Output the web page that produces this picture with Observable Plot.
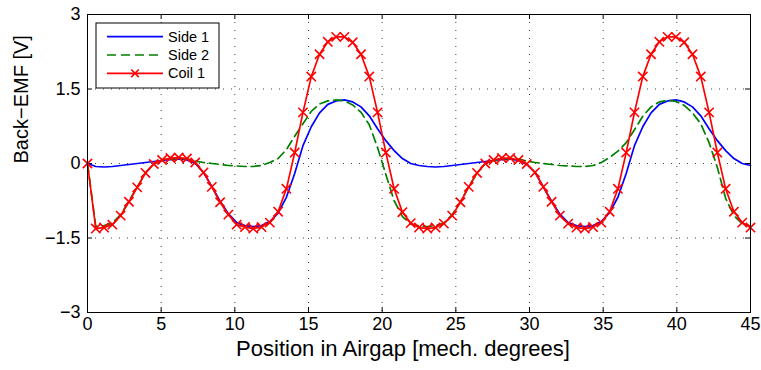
<!DOCTYPE html>
<html><head><meta charset="utf-8">
<script src="https://cdn.jsdelivr.net/npm/d3@7"></script>
<script src="https://cdn.jsdelivr.net/npm/@observablehq/plot@0.6"></script>
<style>body{margin:0;background:#fff;font-family:"Liberation Sans",Arial,sans-serif}</style>
</head><body><div id="chart"></div>
<script>
// Position in airgap [mech. degrees]
const position = [0, 0.5625, 1.125, 1.6875, 2.25, 2.8125, 3.375, 3.9375, 4.5, 5.0625, 5.625, 6.1875, 6.75, 7.3125, 7.875, 8.4375, 9, 9.5625, 10.125, 10.6875, 11.25, 11.8125, 12.375, 12.9375, 13.5, 14.0625, 14.625, 15.1875, 15.75, 16.3125, 16.875, 17.4375, 18, 18.5625, 19.125, 19.6875, 20.25, 20.8125, 21.375, 21.9375,
  22.5, 23.0625, 23.625, 24.1875, 24.75, 25.3125, 25.875, 26.4375, 27, 27.5625, 28.125, 28.6875, 29.25, 29.8125, 30.375, 30.9375, 31.5, 32.0625, 32.625, 33.1875, 33.75, 34.3125, 34.875, 35.4375, 36, 36.5625, 37.125, 37.6875, 38.25, 38.8125, 39.375, 39.9375, 40.5, 41.0625, 41.625, 42.1875, 42.75, 43.3125, 43.875, 44.4375, 45];

const side1 = [0, -0.06, -0.07, -0.06, -0.04, -0.02, 0.00, 0.02, 0.04, 0.06, 0.08, 0.09, 0.07, 0.00, -0.18, -0.46, -0.76, -1.01, -1.19, -1.25, -1.27, -1.25, -1.17, -1.00, -0.68, -0.20, 0.36, 0.74, 1.02, 1.19, 1.26, 1.28, 1.24, 1.14, 0.96, 0.70, 0.46, 0.26, 0.10, 0.00,
  -0.04, -0.06, -0.07, -0.06, -0.04, -0.02, 0.00, 0.02, 0.04, 0.06, 0.08, 0.09, 0.06, -0.02, -0.18, -0.47, -0.76, -1.02, -1.19, -1.25, -1.27, -1.25, -1.17, -0.99, -0.68, -0.20, 0.36, 0.74, 1.02, 1.19, 1.26, 1.28, 1.24, 1.14, 0.96, 0.70, 0.46, 0.26, 0.10, 0.00, -0.04];

const side2 = [0, -1.27, -1.25, -1.20, -1.03, -0.76, -0.47, -0.19, -0.01, 0.06, 0.09, 0.10, 0.09, 0.05, 0.02, 0.00, -0.02, -0.04, -0.05, -0.06, -0.06, -0.04, 0.02, 0.10, 0.28, 0.55, 0.80, 1.05, 1.20, 1.26, 1.28, 1.26, 1.18, 1.03, 0.78, 0.32, -0.22, -0.75, -1.07, -1.22,
  -1.26, -1.27, -1.25, -1.20, -1.03, -0.77, -0.47, -0.19, 0.00, 0.06, 0.09, 0.10, 0.09, 0.05, 0.02, 0.00, -0.02, -0.04, -0.05, -0.06, -0.06, -0.04, 0.02, 0.12, 0.25, 0.42, 0.68, 0.95, 1.14, 1.24, 1.27, 1.25, 1.17, 1.02, 0.80, 0.42, -0.08, -0.70, -1.05, -1.21, -1.26];

const coil1 = [0, -1.31, -1.29, -1.23, -1.05, -0.77, -0.48, -0.19, -0.01, 0.07, 0.11, 0.12, 0.10, 0.02, -0.18, -0.47, -0.78, -1.03, -1.23, -1.28, -1.31, -1.28, -1.19, -0.97, -0.51, 0.22, 1.03, 1.75, 2.20, 2.45, 2.55, 2.55, 2.44, 2.20, 1.75, 1.03, 0.22, -0.51, -0.98, -1.20,
  -1.29, -1.31, -1.29, -1.21, -1.05, -0.78, -0.47, -0.19, 0.00, 0.07, 0.11, 0.11, 0.07, -0.01, -0.18, -0.47, -0.77, -1.05, -1.21, -1.29, -1.31, -1.28, -1.19, -0.97, -0.51, 0.22, 1.03, 1.75, 2.20, 2.45, 2.55, 2.55, 2.44, 2.20, 1.75, 1.03, 0.22, -0.51, -0.97, -1.19, -1.29];

const xTicks = [0, 5, 10, 15, 20, 25, 30, 35, 40, 45];
const yTicks = [-3, -1.5, 0, 1.5, 3];
const xGrid = [5, 10, 15, 20, 25, 30, 35, 40];
const yGrid = [-1.5, 0, 1.5];
const seriesNames = ["Side 1", "Side 2", "Coil 1"];
const xLabel = "Position in Airgap [mech. degrees]";
const yLabel = "Back\u2212EMF [V]";

const rows = position.map((x, i) => ({x, s1: side1[i], s2: side2[i], c: coil1[i]}));

const W = 761, H = 370, mL = 87, mR = 11, mT = 14, mB = 58;
const pw = W - mL - mR, ph = H - mT - mB, tk = 5;
const fmt = d => (d < 0 ? "\u2212" + Math.abs(d) : String(d));

const svg = Plot.plot({
  width: W, height: H,
  marginLeft: mL, marginRight: mR, marginTop: mT, marginBottom: mB,
  style: {fontFamily: "'Liberation Sans', Arial, sans-serif", fontSize: "18px", background: "#fff", color: "#000"},
  x: {domain: [0, 45], ticks: xTicks, tickSize: 0, tickPadding: 5, tickFormat: fmt, label: null},
  y: {domain: [-3, 3], ticks: yTicks, tickSize: 0, tickPadding: 7, tickFormat: fmt, label: null},
  marks: [
    Plot.ruleX(xGrid, {stroke: "#000", strokeOpacity: 0.75, strokeDasharray: "1,7"}),
    Plot.ruleY(yGrid, {stroke: "#000", strokeOpacity: 0.75, strokeDasharray: "1,7"}),
    Plot.tickX(xTicks, {x: d => d, stroke: "#000", insetTop: ph - tk}),
    Plot.tickX(xTicks, {x: d => d, stroke: "#000", insetBottom: ph - tk}),
    Plot.tickY(yTicks, {y: d => d, stroke: "#000", insetRight: pw - tk}),
    Plot.tickY(yTicks, {y: d => d, stroke: "#000", insetLeft: pw - tk}),
    Plot.line(rows, {x: "x", y: "s1", stroke: "#0000ff", strokeWidth: 1.7}),
    Plot.line(rows, {x: "x", y: "s2", stroke: "#008000", strokeWidth: 1.7, strokeDasharray: "9,5"}),
    Plot.line(rows, {x: "x", y: "c", stroke: "#ff0000", strokeWidth: 1.7}),
    Plot.dot(rows, {x: "x", y: "c", symbol: "times", r: 4.3, stroke: "#ff0000", strokeWidth: 1.6}),
    Plot.frame({stroke: "#000"}),
    Plot.text([yLabel], {text: d => d, frameAnchor: "left", dx: -66, rotate: -90, fontSize: 20}),
    Plot.text([xLabel], {text: d => d, frameAnchor: "bottom", dx: -16, dy: 43, fontSize: 22})
  ]
});
document.getElementById("chart").appendChild(svg);

// Legend (upper left, inside the axes)
const lg = d3.select(svg).append("g")
  .attr("font-family", "'Liberation Sans', Arial, sans-serif").attr("font-size", 14.5).attr("text-anchor", "start");
lg.append("rect").attr("x", 96).attr("y", 23).attr("width", 123).attr("height", 65)
  .attr("fill", "#fff").attr("stroke", "#000").attr("stroke-width", 1);
const legendStyle = [
  {stroke: "#0000ff", dash: null, marker: false},
  {stroke: "#008000", dash: "9,5", marker: false},
  {stroke: "#ff0000", dash: null, marker: true}
];
seriesNames.forEach((name, i) => {
  const yy = 36.7 + i * 18.3;
  const st = legendStyle[i];
  lg.append("line").attr("x1", 107).attr("x2", 163).attr("y1", yy).attr("y2", yy)
    .attr("stroke", st.stroke).attr("stroke-width", 1.7).attr("stroke-dasharray", st.dash);
  if (st.marker) {
    const r = 3.8;
    lg.append("path").attr("d", `M${135 - r},${yy - r}L${135 + r},${yy + r}M${135 - r},${yy + r}L${135 + r},${yy - r}`)
      .attr("stroke", st.stroke).attr("stroke-width", 1.6).attr("fill", "none");
  }
  lg.append("text").attr("x", 168).attr("y", yy).attr("dy", "0.35em").attr("fill", "#000").attr("text-anchor", "start").text(name);
});
</script>
</body></html>
